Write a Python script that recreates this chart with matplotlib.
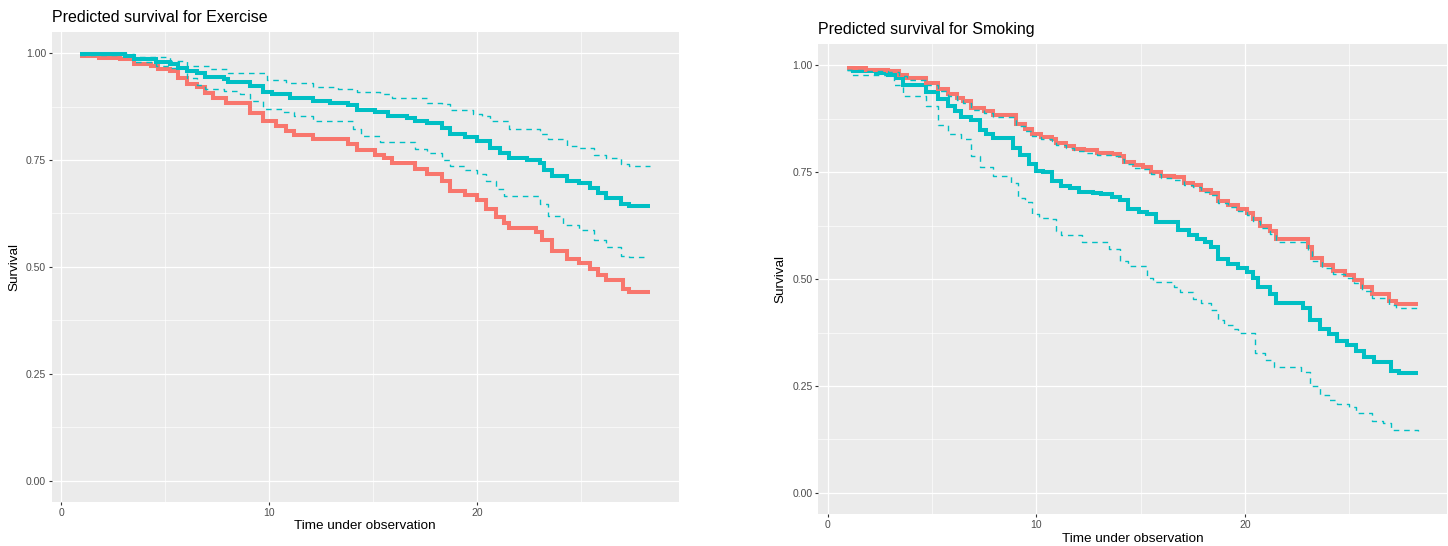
import matplotlib
matplotlib.use("Agg")
import matplotlib.pyplot as plt
from matplotlib.ticker import MultipleLocator

plt.rcParams['font.family'] = ['Liberation Sans', 'DejaVu Sans']

# ---------------- Data: Exercise panel ----------------
ex_teal_t = [0.9, 3.05, 3.5, 4.55, 5.2, 5.6, 6.05, 6.5, 6.9, 7.8, 8.0, 9.05, 9.7, 10.1, 11.0, 12.1,
             12.9, 13.8, 14.2, 15.1, 15.7, 16.6, 17.0, 17.6, 18.3, 18.7, 19.4, 20.0, 20.6, 21.1,
             21.5, 22.4, 23.0, 23.2, 23.6, 24.3, 24.9, 25.4, 25.8, 26.2, 26.9, 27.3, 28.3]
ex_teal_s = [0.998, 0.992, 0.985, 0.980, 0.974, 0.966, 0.958, 0.954, 0.944, 0.939, 0.933, 0.923,
             0.910, 0.905, 0.895, 0.888, 0.884, 0.879, 0.868, 0.862, 0.852, 0.848, 0.841, 0.836,
             0.825, 0.811, 0.803, 0.795, 0.778, 0.766, 0.754, 0.750, 0.742, 0.726, 0.713, 0.701,
             0.695, 0.685, 0.673, 0.662, 0.648, 0.642, 0.642]

ex_red_t = [0.9, 1.8, 2.8, 3.5, 4.3, 4.65, 5.2, 5.6, 6.05, 6.5, 6.9, 7.3, 7.9, 9.05, 9.7, 10.3,
            10.8, 11.2, 12.1, 13.8, 14.2, 15.1, 15.5, 15.9, 17.0, 17.6, 18.3, 18.7, 19.4, 20.0,
            20.4, 20.9, 21.3, 21.5, 22.8, 23.1, 23.6, 24.3, 24.9, 25.4, 25.8, 26.2, 27.0, 27.3, 28.3]
ex_red_s = [0.994, 0.989, 0.986, 0.974, 0.970, 0.962, 0.958, 0.941, 0.927, 0.921, 0.906, 0.894,
            0.884, 0.860, 0.840, 0.830, 0.817, 0.809, 0.799, 0.788, 0.773, 0.762, 0.754, 0.743,
            0.728, 0.717, 0.701, 0.678, 0.667, 0.656, 0.636, 0.616, 0.603, 0.591, 0.581, 0.563,
            0.538, 0.518, 0.510, 0.496, 0.481, 0.469, 0.449, 0.441, 0.441]

ex_upper_t = [0.9, 3.5, 5.2, 6.05, 7.1, 8.0, 9.9, 10.8, 12.1, 13.3, 14.2, 15.3, 15.9, 17.6, 18.3,
              18.7, 19.8, 20.2, 20.6, 21.5, 23.0, 23.4, 24.3, 24.9, 25.6, 26.2, 26.9, 27.3, 28.3]
ex_upper_s = [0.998, 0.990, 0.982, 0.970, 0.962, 0.954, 0.937, 0.929, 0.921, 0.917, 0.909, 0.905,
              0.894, 0.884, 0.880, 0.866, 0.858, 0.852, 0.840, 0.823, 0.811, 0.799, 0.783, 0.777,
              0.762, 0.754, 0.740, 0.736, 0.736]

ex_lower_t = [0.9, 3.5, 4.55, 5.2, 6.05, 6.5, 6.9, 7.8, 8.6, 9.05, 9.7, 10.6, 11.2, 12.1, 14.0,
              14.4, 15.3, 17.0, 17.6, 18.3, 18.7, 19.4, 20.0, 20.4, 20.9, 21.3, 23.0, 23.4, 24.1,
              24.9, 25.6, 26.2, 26.9, 27.3, 28.1]
ex_lower_s = [0.996, 0.980, 0.970, 0.966, 0.941, 0.925, 0.917, 0.911, 0.905, 0.888, 0.870, 0.862,
              0.852, 0.841, 0.823, 0.805, 0.791, 0.776, 0.766, 0.750, 0.735, 0.726, 0.717, 0.701,
              0.681, 0.665, 0.646, 0.620, 0.599, 0.587, 0.563, 0.546, 0.526, 0.522, 0.522]

# ---------------- Data: Smoking panel ----------------
sm_red_t = [0.93, 1.85, 2.9, 3.4, 3.8, 4.7, 5.3, 5.75, 6.2, 6.5, 6.85, 7.5, 7.9, 9.0, 9.45, 9.8,
            10.2, 10.75, 10.95, 11.4, 11.8, 12.3, 12.9, 13.6, 14.0, 14.2, 14.7, 15.1, 15.5, 15.95,
            16.6, 17.05, 17.5, 17.9, 18.35, 18.7, 19.2, 19.65, 20.1, 20.4, 20.7, 21.2, 21.5, 23.0,
            23.2, 23.7, 24.2, 24.8, 25.2, 25.6, 26.1, 26.9, 27.25, 28.3]
sm_red_s = [0.994, 0.990, 0.988, 0.978, 0.970, 0.958, 0.945, 0.932, 0.923, 0.917, 0.901, 0.893,
            0.884, 0.864, 0.852, 0.840, 0.833, 0.827, 0.819, 0.811, 0.805, 0.801, 0.796, 0.792,
            0.787, 0.774, 0.766, 0.762, 0.750, 0.742, 0.738, 0.726, 0.720, 0.709, 0.701, 0.682,
            0.673, 0.664, 0.655, 0.640, 0.624, 0.612, 0.593, 0.575, 0.550, 0.533, 0.520, 0.510,
            0.498, 0.481, 0.465, 0.449, 0.441, 0.441]

sm_upper_t = [0.93, 1.85, 2.9, 3.4, 3.8, 4.7, 5.3, 5.75, 6.2, 6.5, 6.85, 7.5, 7.9, 9.0, 9.45, 9.8,
              10.2, 10.75, 10.95, 11.4, 11.8, 12.3, 12.9, 13.6, 14.0, 14.2, 14.7, 15.1, 15.5, 15.95,
              16.6, 17.05, 17.5, 17.9, 18.35, 18.7, 19.2, 19.65, 20.1, 20.4, 20.7, 21.2, 21.5, 23.0,
              23.2, 23.7, 24.2, 24.8, 25.2, 25.6, 26.1, 26.9, 27.25, 28.3]
sm_upper_s = [0.990, 0.986, 0.984, 0.974, 0.966, 0.954, 0.941, 0.928, 0.919, 0.912, 0.896, 0.888,
              0.879, 0.859, 0.847, 0.835, 0.828, 0.822, 0.814, 0.806, 0.800, 0.796, 0.791, 0.787,
              0.782, 0.769, 0.761, 0.757, 0.745, 0.737, 0.733, 0.721, 0.715, 0.704, 0.696, 0.677,
              0.668, 0.659, 0.650, 0.635, 0.619, 0.606, 0.587, 0.568, 0.543, 0.526, 0.512, 0.502,
              0.490, 0.473, 0.456, 0.440, 0.432, 0.432]

sm_teal_t = [0.93, 1.2, 2.3, 2.9, 3.3, 3.6, 4.7, 5.3, 5.75, 6.1, 6.4, 6.85, 7.3, 7.6, 7.9, 8.9,
             9.2, 9.65, 10.0, 10.3, 10.75, 11.2, 11.6, 12.05, 12.7, 13.1, 13.6, 14.0, 14.4, 14.9,
             15.3, 15.75, 16.8, 17.3, 17.7, 18.1, 18.35, 18.7, 19.2, 19.65, 20.1, 20.4, 20.6,
             21.2, 21.5, 22.8, 23.1, 23.6, 24.0, 24.4, 24.9, 25.3, 25.7, 26.2, 27.0, 27.4, 28.3]
sm_teal_s = [0.994, 0.986, 0.982, 0.978, 0.970, 0.954, 0.937, 0.921, 0.905, 0.893, 0.880, 0.872,
             0.848, 0.840, 0.829, 0.807, 0.791, 0.770, 0.754, 0.750, 0.730, 0.717, 0.713, 0.705,
             0.701, 0.699, 0.693, 0.685, 0.664, 0.658, 0.652, 0.634, 0.616, 0.603, 0.593, 0.587,
             0.575, 0.546, 0.536, 0.526, 0.516, 0.502, 0.481, 0.465, 0.445, 0.432, 0.404, 0.384,
             0.371, 0.355, 0.347, 0.331, 0.318, 0.306, 0.286, 0.280, 0.280]

sm_lower_t = [0.93, 1.1, 3.15, 3.6, 4.7, 5.3, 5.75, 6.4, 6.85, 7.3, 7.9, 8.8, 9.1, 9.45, 9.8,
              10.1, 10.6, 10.95, 11.2, 12.2, 13.5, 14.0, 14.4, 15.3, 15.6, 16.6, 16.9, 17.5, 17.9,
              18.35, 18.7, 19.0, 19.4, 19.65, 20.5, 20.95, 21.4, 22.7, 23.1, 23.6, 24.0, 24.4,
              25.0, 25.3, 26.1, 26.6, 27.0, 28.3]
sm_lower_s = [0.990, 0.978, 0.954, 0.929, 0.905, 0.860, 0.840, 0.827, 0.787, 0.762, 0.742, 0.726,
              0.689, 0.681, 0.652, 0.644, 0.640, 0.612, 0.603, 0.587, 0.571, 0.542, 0.530, 0.502,
              0.493, 0.481, 0.469, 0.453, 0.445, 0.428, 0.404, 0.392, 0.384, 0.373, 0.327, 0.310,
              0.294, 0.282, 0.249, 0.229, 0.217, 0.208, 0.200, 0.188, 0.168, 0.164, 0.147, 0.145]

titles = ["Predicted survival for Exercise", "Predicted survival for Smoking"]
x_label = "Time under observation"
y_label = "Survival"
x_ticks = [0, 10, 20]
y_ticks = [0.00, 0.25, 0.50, 0.75, 1.00]
y_ticklabels = ["0.00", "0.25", "0.50", "0.75", "1.00"]

RED = "#F8766D"
TEAL = "#00BFC4"
BG = "#EBEBEB"

W, H = 1448, 546
fig = plt.figure(figsize=(W / 100, H / 100), dpi=100)

def px_axes(left, top, right, bottom):
    return fig.add_axes([left / W, 1 - bottom / H, (right - left) / W, (bottom - top) / H])

ax1 = px_axes(51.7, 31.7, 678.7, 502)
ax2 = px_axes(818, 44, 1447, 514.3)

def style(ax, title):
    ax.set_facecolor(BG)
    for s in ax.spines.values():
        s.set_visible(False)
    ax.set_xlim(-0.47, 29.68)
    ax.set_ylim(-0.05, 1.05)
    ax.set_xticks(x_ticks)
    ax.set_yticks(y_ticks)
    ax.set_yticklabels(y_ticklabels)
    ax.xaxis.set_minor_locator(MultipleLocator(5))
    ax.yaxis.set_minor_locator(MultipleLocator(0.125))
    ax.grid(True, which='major', color='white', lw=0.9)
    ax.grid(True, which='minor', color='white', lw=0.45)
    ax.set_axisbelow(True)
    ax.tick_params(which='major', length=2.4, width=0.8, color='#333333', pad=1.6,
                   labelsize=7.5, labelcolor='#4D4D4D')
    ax.tick_params(which='minor', length=0)
    ax.set_xlabel(x_label, fontsize=9.7, color='black', labelpad=2)
    ax.set_ylabel(y_label, fontsize=9.7, color='black', labelpad=4)
    ax.set_title(title, loc='left', fontsize=11.5, color='black', pad=7)

def curves(ax, solid, dashed):
    for (t, s, c) in solid:
        ax.step(t, s, where='post', color=c, lw=2.9, solid_capstyle='butt', solid_joinstyle='miter')
    for (t, s, c) in dashed:
        ax.step(t, s, where='post', color=c, lw=1.0, linestyle=(0, (4, 3.5)))

style(ax1, titles[0])
curves(ax1, [(ex_red_t, ex_red_s, RED), (ex_teal_t, ex_teal_s, TEAL)],
       [(ex_upper_t, ex_upper_s, TEAL), (ex_lower_t, ex_lower_s, TEAL)])

style(ax2, titles[1])
curves(ax2, [(sm_teal_t, sm_teal_s, TEAL), (sm_red_t, sm_red_s, RED)],
       [(sm_upper_t, sm_upper_s, TEAL), (sm_lower_t, sm_lower_s, TEAL)])

fig.savefig("out.png", dpi=100)
